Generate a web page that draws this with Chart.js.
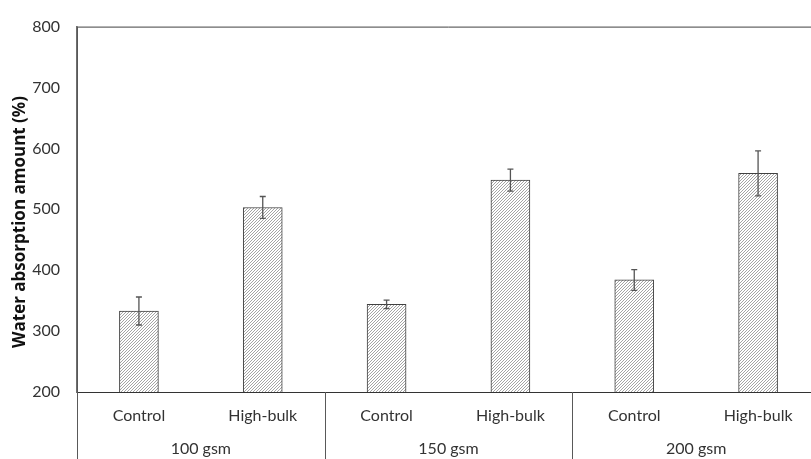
<!DOCTYPE html>
<html>
<head>
<meta charset="utf-8">
<script src="https://cdn.jsdelivr.net/npm/chart.js@4/dist/chart.umd.min.js"></script>
<style>
  html, body { margin: 0; padding: 0; background: #fff; overflow: hidden; }
  #wrap { width: 822px; height: 459px; position: relative; }
</style>
</head>
<body>
<div id="wrap"><canvas id="c"></canvas></div>
<script>
// Water absorption by paper grade and treatment
const categories = ['Control', 'High-bulk', 'Control', 'High-bulk', 'Control', 'High-bulk'];
const groups = ['100 gsm', '150 gsm', '200 gsm'];
const absorption = [333, 503, 344, 548, 384, 559];
const errors = [23, 18, 7, 18, 17, 37];
const yTicks = [200, 300, 400, 500, 600, 700, 800];
const yTitle = 'Water absorption amount (%)';

const FONT = 'Lato, "Open Sans", sans-serif';
const TEXT = '#333333';

// diagonal hatch fill for the bars
function hatch() {
  const s = 3;
  const p = document.createElement('canvas');
  p.width = s; p.height = s;
  const g = p.getContext('2d');
  g.fillStyle = '#ffffff';
  g.fillRect(0, 0, s, s);
  g.strokeStyle = '#9a9a9a';
  g.lineWidth = 0.9;
  g.beginPath();
  g.moveTo(-1, s + 1); g.lineTo(s + 1, -1);
  g.moveTo(-1, 1); g.lineTo(1, -1);
  g.moveTo(s - 1, s + 1); g.lineTo(s + 1, s - 1);
  g.stroke();
  return document.getElementById('c').getContext('2d').createPattern(p, 'repeat');
}

const extras = {
  id: 'extras',
  afterDatasetsDraw(chart) {
    const ctx = chart.ctx;
    const xs = chart.scales.x, ys = chart.scales.y;
    ctx.save();
    ctx.strokeStyle = '#555555';
    ctx.lineWidth = 1.3;
    absorption.forEach((v, i) => {
      const x = xs.getPixelForValue(i);
      const yTop = ys.getPixelForValue(v + errors[i]);
      const yBot = ys.getPixelForValue(v - errors[i]);
      ctx.beginPath();
      ctx.moveTo(x, yTop); ctx.lineTo(x, yBot);
      ctx.moveTo(x - 3, yTop); ctx.lineTo(x + 3, yTop);
      ctx.moveTo(x - 3, yBot); ctx.lineTo(x + 3, yBot);
      ctx.stroke();
    });
    ctx.restore();
  },
  afterDraw(chart) {
    const ctx = chart.ctx;
    const xs = chart.scales.x;
    const area = chart.chartArea;
    const catW = xs.getPixelForValue(1) - xs.getPixelForValue(0);
    ctx.save();
    // frame top and right
    ctx.strokeStyle = '#404040';
    ctx.lineWidth = 1;
    ctx.beginPath();
    ctx.moveTo(area.left, area.top + 0.5);
    ctx.lineTo(area.right, area.top + 0.5);
    ctx.lineTo(area.right, area.bottom);
    ctx.stroke();
    // group separators below the axis
    ctx.strokeStyle = '#595959';
    for (let g = 0; g <= groups.length; g++) {
      const x = Math.round(xs.getPixelForValue(g * 2) - catW / 2) + 0.5;
      ctx.beginPath();
      ctx.moveTo(x, area.top);
      if (g !== 0 && g !== groups.length) ctx.moveTo(x, xs.top);
      ctx.lineTo(x, chart.height);
      ctx.stroke();
    }
    // group labels
    ctx.fillStyle = TEXT;
    ctx.font = '16px ' + FONT;
    ctx.textAlign = 'center';
    ctx.textBaseline = 'middle';
    groups.forEach((name, g) => {
      const x = (xs.getPixelForValue(g * 2) + xs.getPixelForValue(g * 2 + 1)) / 2;
      ctx.fillText(name, x, xs.top + 57);
    });
    // y axis title
    ctx.font = 'bold 17px "Open Sans", sans-serif';
    ctx.fillStyle = '#111111';
    ctx.translate(20, 222);
    ctx.rotate(-Math.PI / 2);
    ctx.fillText(yTitle, 0, 0);
    ctx.restore();
  }
};

new Chart(document.getElementById('c'), {
  type: 'bar',
  data: {
    labels: categories,
    datasets: [{
      data: absorption,
      backgroundColor: hatch(),
      borderColor: '#404040',
      borderWidth: 1,
      barThickness: 39
    }]
  },
  options: {
    responsive: true,
    maintainAspectRatio: false,
    animation: false,
    layout: { padding: { top: 15, right: 2, bottom: 0, left: 0 } },
    plugins: { legend: { display: false }, tooltip: { enabled: false } },
    scales: {
      x: {
        type: 'category',
        offset: true,
        grid: { display: false, drawTicks: false },
        border: { display: true, color: '#333333', width: 1 },
        ticks: { color: TEXT, font: { family: FONT, size: 16 }, padding: 14, maxRotation: 0 },
        afterFit(s) { s.height = 67; }
      },
      y: {
        min: 200,
        max: 800,
        afterBuildTicks(s) { s.ticks = yTicks.map(v => ({ value: v })); },
        grid: { display: false, drawTicks: false },
        border: { display: true, color: '#6e6e6e', width: 1.3 },
        ticks: { color: TEXT, font: { family: FONT, size: 16 }, padding: 17 },
        afterFit(s) { s.width = 77; }
      }
    }
  },
  plugins: [extras]
});
</script>
</body>
</html>
